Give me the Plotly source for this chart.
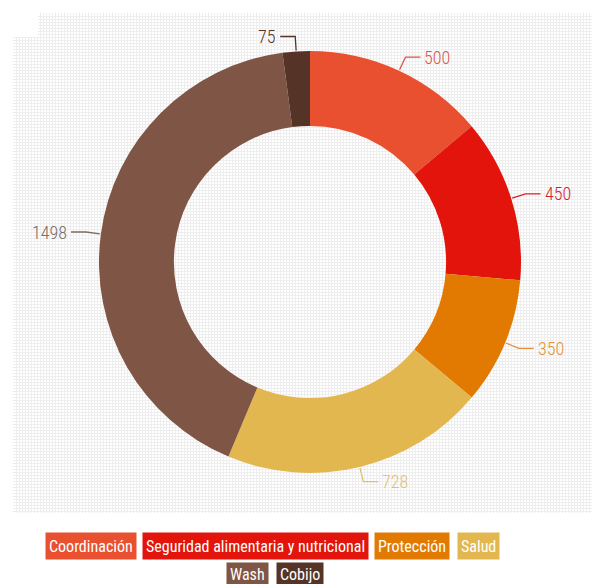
import math
import plotly.graph_objects as go

categories = ["Coordinación", "Seguridad alimentaria y nutricional", "Protección", "Salud", "Wash", "Cobijo"]
values = [500, 450, 350, 728, 1498, 75]
colors = ["#E8502F", "#E2140B", "#E27A02", "#E3B750", "#7F5545", "#553427"]
label_colors = ["#D9574A", "#D8202A", "#E0913A", "#E2BF6E", "#7C6A64", "#553427"]

W, H = 594, 584
FONT = "Roboto Condensed, DejaVu Sans Condensed, sans-serif"

# donut geometry (pixels)
CX, CY, R = 310, 262, 211
HOLE = 0.645

fig = go.Figure()

fig.add_trace(go.Pie(
    labels=categories, values=values, sort=False, direction="clockwise", rotation=0,
    hole=HOLE, marker=dict(colors=colors, line=dict(width=0)),
    textinfo="none", hoverinfo="label+value", showlegend=False,
    domain=dict(x=[(CX - R) / W, (CX + R) / W], y=[1 - (CY + R) / H, 1 - (CY - R) / H]),
))

total = sum(values)
cum = 0
annotations = []
for v, c, lc in zip(values, colors, label_colors):
    mid = (cum + v / 2) / total * 2 * math.pi
    cum += v
    sx, sy = math.sin(mid), -math.cos(mid)
    x0, y0 = CX + (R + 1) * sx, CY + (R + 1) * sy
    x1, y1 = CX + (R + 15) * sx, CY + (R + 15) * sy
    side = 1 if sx >= 0 else -1
    x2 = x1 + 15 * side
    fig.add_trace(go.Scatter(
        x=[x0, x1, x2], y=[y0, y1, y1], mode="lines",
        line=dict(color=lc, width=1.3), hoverinfo="skip", showlegend=False,
        cliponaxis=False,
    ))
    annotations.append(dict(
        x=x2 + 2 * side, y=y1, xref="x", yref="y", text=str(v), showarrow=False,
        xanchor="left" if side > 0 else "right", yanchor="middle",
        font=dict(family=FONT, size=18, color=lc, weight=300),
    ))

# custom legend boxes
legend_pos = [(91, 546), (255, 546), (411.5, 546), (478, 546), (247.5, 574), (299.5, 574)]
legend_h = [20, 20, 20, 20, 17, 17]
for name, c, (lx, ly), hh in zip(categories, colors, legend_pos, legend_h):
    annotations.append(dict(
        x=lx / W, y=1 - ly / H, xref="paper", yref="paper", text=name, showarrow=False,
        xanchor="center", yanchor="middle", bgcolor=c, borderpad=3, height=hh,
        font=dict(family=FONT, size=16, color="white"),
    ))

GX0, GX1, GY0, GY1 = 13, 592, 13, 513
fig.update_layout(
    width=W, height=H, margin=dict(l=0, r=0, t=0, b=0),
    paper_bgcolor="white", plot_bgcolor="white",
    xaxis=dict(domain=[GX0 / W, GX1 / W], range=[GX0, GX1], showgrid=True, dtick=3, tick0=GX0,
               gridcolor="#eeeeee", gridwidth=1, zeroline=False, showticklabels=False,
               ticks="", showline=False, fixedrange=True),
    yaxis=dict(domain=[1 - GY1 / H, 1 - GY0 / H], range=[GY1, GY0], showgrid=True, dtick=3, tick0=GY0,
               gridcolor="#eeeeee", gridwidth=1, zeroline=False, showticklabels=False,
               ticks="", showline=False, fixedrange=True),
    shapes=[dict(type="rect", xref="x", yref="y", x0=GX0 - 1, x1=38, y0=GY0 - 1, y1=37,
                 fillcolor="white", line=dict(width=0), layer="between")],
    annotations=annotations,
    showlegend=False,
)

fig.write_html("out.html", config={"displayModeBar": False},
               post_script="document.body.style.margin='0';")
